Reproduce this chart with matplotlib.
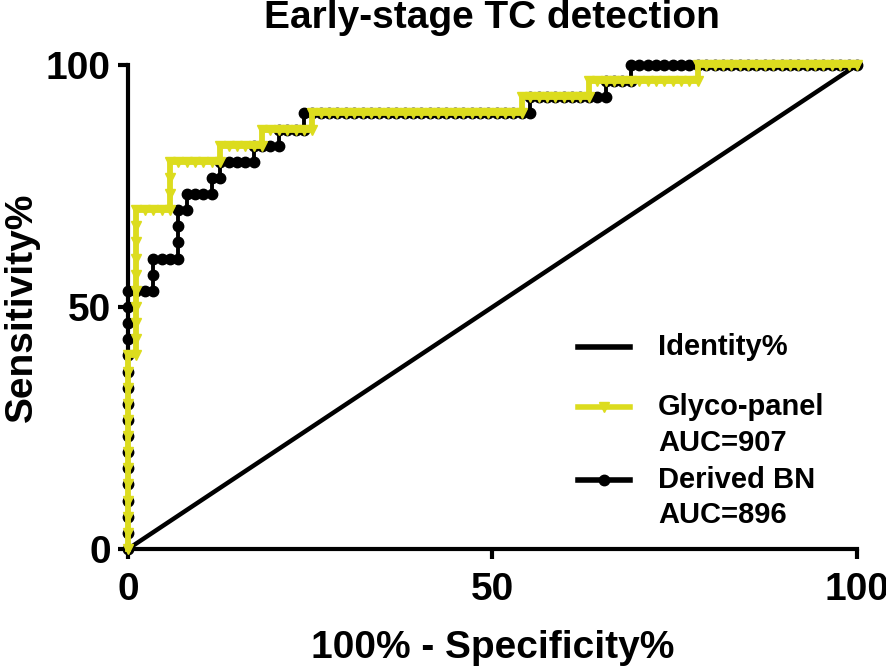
import numpy as np
import matplotlib.pyplot as plt

plt.rcParams['font.family'] = ['Liberation Sans', 'DejaVu Sans']
plt.rcParams['font.weight'] = 'bold'

# -------------------------
# ROC data (counts)
# -------------------------
n_controls = 87
n_cases = 30

# Derived BN: false positives / true positives at each threshold
bn_fp = [
    0, 0, 0, 0, 0, 0, 0, 0, 0, 0, 0, 0, 0, 0, 0, 0, 0,
    1, 2, 3, 3, 3, 4, 5, 6, 6, 6, 6, 7, 7, 8, 9, 10, 10, 11, 11, 12, 13, 14, 15, 15,
    16, 17, 18, 18, 19, 20, 21, 21,
    22, 23, 24, 25, 26, 27, 28, 29, 30, 31, 32, 33, 34, 35, 36, 37, 38, 39, 40, 41,
    42, 43, 44, 45, 46, 47, 48, 48,
    49, 50, 51, 52, 53, 54, 55, 56, 57, 57, 58, 59, 60, 60,
    61, 62, 63, 64, 65, 66, 67, 68, 69, 70, 71, 72, 73, 74, 75, 76, 77, 78, 79, 80,
    81, 82, 83, 84, 85, 86, 87,
]
bn_tp = [
    0, 1, 2, 3, 4, 5, 6, 7, 8, 9, 10, 11, 12, 13, 14, 15, 16,
    16, 16, 16, 17, 18, 18, 18, 18, 19, 20, 21, 21, 22, 22, 22, 22, 23, 23, 24, 24, 24, 24, 24, 25,
    25, 25, 25, 26, 26, 26, 26, 27,
    27, 27, 27, 27, 27, 27, 27, 27, 27, 27, 27, 27, 27, 27, 27, 27, 27, 27, 27, 27,
    27, 27, 27, 27, 27, 27, 27, 28,
    28, 28, 28, 28, 28, 28, 28, 28, 28, 29, 29, 29, 29, 30,
    30, 30, 30, 30, 30, 30, 30, 30, 30, 30, 30, 30, 30, 30, 30, 30, 30, 30, 30, 30,
    30, 30, 30, 30, 30, 30, 30,
]

# Glyco-panel
gp_fp = [
    0, 0, 0, 0, 0, 0, 0, 0, 0, 0, 0, 0, 0,
    1, 1, 1, 1, 1, 1, 1, 1, 1, 1,
    2, 3, 4, 5, 5, 5, 5, 6, 7, 8, 9, 10, 11, 11, 12, 13, 14, 15, 16, 16,
    17, 18, 19, 20, 21, 22, 22,
    23, 24, 25, 26, 27, 28, 29, 30, 31, 32, 33, 34, 35, 36, 37, 38, 39, 40, 41, 42,
    43, 44, 45, 46, 47, 47,
    48, 49, 50, 51, 52, 53, 54, 55, 55,
    56, 57, 58, 59, 60, 61, 62, 63, 64, 65, 66, 67, 68, 68,
    69, 70, 71, 72, 73, 74, 75, 76, 77, 78, 79, 80, 81, 82, 83, 84, 85, 86, 87,
]
gp_tp = [
    0, 1, 2, 3, 4, 5, 6, 7, 8, 9, 10, 11, 12,
    12, 13, 14, 15, 16, 17, 18, 19, 20, 21,
    21, 21, 21, 21, 22, 23, 24, 24, 24, 24, 24, 24, 24, 25, 25, 25, 25, 25, 25, 26,
    26, 26, 26, 26, 26, 26, 27,
    27, 27, 27, 27, 27, 27, 27, 27, 27, 27, 27, 27, 27, 27, 27, 27, 27, 27, 27, 27,
    27, 27, 27, 27, 27, 28,
    28, 28, 28, 28, 28, 28, 28, 28, 29,
    29, 29, 29, 29, 29, 29, 29, 29, 29, 29, 29, 29, 29, 30,
    30, 30, 30, 30, 30, 30, 30, 30, 30, 30, 30, 30, 30, 30, 30, 30, 30, 30, 30,
]

identity_x = [0, 100]
identity_y = [0, 100]

ticks = [0, 50, 100]
yellow = "#DCDC1E"

bn_x = np.array(bn_fp) / n_controls * 100
bn_y = np.array(bn_tp) / n_cases * 100
gp_x = np.array(gp_fp) / n_controls * 100
gp_y = np.array(gp_tp) / n_cases * 100

# -------------------------
# Plot
# -------------------------
fig = plt.figure(figsize=(8.86, 6.70), dpi=100)
ax = fig.add_axes([128 / 886, 121 / 670, 729 / 886, 484 / 670])

ax.plot(identity_x, identity_y, color="black", lw=3.2, zorder=2, clip_on=False)
ax.plot(bn_x, bn_y, color="black", lw=2.8, marker="o", ms=7.5, zorder=3, clip_on=False)
ax.plot(gp_x, gp_y, color=yellow, lw=4.2, marker="v", ms=6.5, zorder=4, clip_on=False)

ax.set_xlim(0, 100)
ax.set_ylim(0, 100)
ax.set_xticks(ticks)
ax.set_yticks(ticks)
for side in ["top", "right"]:
    ax.spines[side].set_visible(False)
for side in ["left", "bottom"]:
    ax.spines[side].set_linewidth(3)
ax.tick_params(length=7.5, width=3, labelsize=28, pad=5)
ax.tick_params(axis="x", pad=9)

ax.set_xlabel("100% - Specificity%", fontsize=28, fontweight="bold", labelpad=16)
ax.set_ylabel("Sensitivity%", fontsize=28, fontweight="bold", labelpad=4)
fig.text(0.555, 0.973, "Early-stage TC detection", fontsize=28, fontweight="bold",
         ha="center", va="center")

# legend drawn by hand so handles sit on the first line of each label
leg = [
    (0.417, "black", None, "Identity%", None),
    (0.293, yellow, "v", "Glyco-panel", "AUC=907"),
    (0.143, "black", "o", "Derived BN", "AUC=896"),
]
for y, c, m, name, auc in leg:
    ax.plot([0.617, 0.689], [y, y], color=c, lw=4, transform=ax.transAxes, clip_on=False)
    if m:
        ax.plot([0.653], [y], color=c, marker=m, ms=7.5, transform=ax.transAxes, clip_on=False)
    ax.text(0.727, y, name, fontsize=21, fontweight="bold", va="center", transform=ax.transAxes)
    if auc:
        ax.text(0.727, y - 0.073, auc, fontsize=21, fontweight="bold", va="center",
                transform=ax.transAxes)

fig.savefig("out.png", dpi=100)
